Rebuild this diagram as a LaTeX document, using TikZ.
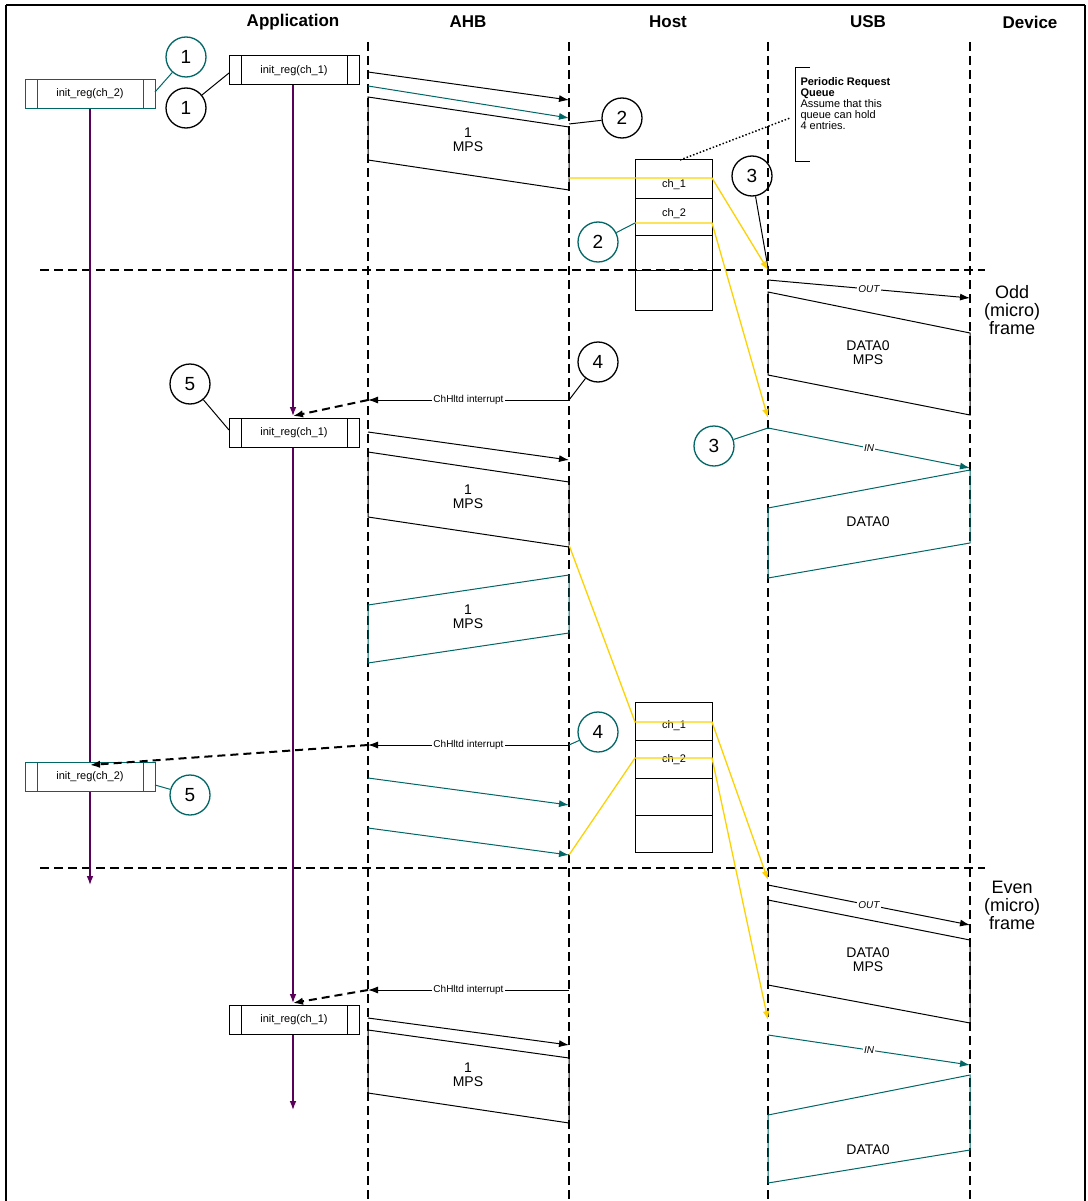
\documentclass[tikz,border=0pt]{standalone}
\usepackage{fontspec}
\setmainfont{Liberation Sans}
\usetikzlibrary{arrows.meta}
\newcommand{\fs}[1]{\fontsize{#1}{#1}\selectfont}
\begin{document}
\begin{tikzpicture}[x=1pt,y=-1pt, line width=1pt,
  teal/.style={draw=teal!80!black},
  yl/.style={draw=yellow!70!orange, line width=1.3pt},
  life/.style={line width=2pt, dash pattern=on 9pt off 5pt},
  msg/.style={-{Latex[length=10pt,width=7pt]}, line width=1pt},
  circ/.style={circle, draw, line width=1.3pt, minimum size=40pt, font=\fs{19}},
  reg/.style={draw, line width=1pt, minimum width=130pt, minimum height=29pt, font=\fs{11}, inner sep=0pt},
  lbl/.style={font=\fs{14}, align=center},
  sl/.style={fill=white, font=\fs{10}, inner sep=1pt, text=black},
  hdr/.style={font=\fs{17}\bfseries}]
\useasboundingbox (0,0) rectangle (1087,1201);
\draw[line width=1.5pt] (6,5) -- (1085,5) (6,5) -- (6,1201) (1085,5)--(1085,1201);
% headers
\node[hdr] at (293,22) {Application};
\node[hdr] at (468,22) {AHB};
\node[hdr] at (668,22) {Host};
\node[hdr] at (868,22) {USB};
\node[hdr] at (1030,22) {Device};
% lifelines
\foreach \x in {368,569,768,970} \draw[life] (\x,42) -- (\x,1201);
\draw[life] (40,270) -- (985,270);
\draw[life] (40,868) -- (985,868);
\node[font=\fs{18}, align=center, inner sep=0pt] at (1012,310) {Odd\\(micro)\\frame};
\node[font=\fs{18}, align=center, inner sep=0pt] at (1012,905) {Even\\(micro)\\frame};
% purple lifelines
\draw[violet!70!black, -{Latex[length=9pt]}, line width=1.3pt] (90,108) -- (90,885);
\draw[violet!70!black, -{Latex[length=9pt]}, line width=1.3pt] (293,85) -- (293,416);
\draw[violet!70!black, -{Latex[length=9pt]}, line width=1.3pt] (293,448) -- (293,1003);
\draw[violet!70!black, -{Latex[length=9pt]}, line width=1.3pt] (293,1035) -- (293,1110);
% boxes
\node[reg, fill=white] (r1) at (294,70.5) {init\_reg(ch\_1)};
\draw (241,56) -- (241,85) (347,56) -- (347,85);
\node[reg, teal, fill=white] (r2) at (90,94) {init\_reg(ch\_2)};
\draw[teal] (37,80) -- (37,108) (143,80) -- (143,108);
\node[reg, fill=white] (r3) at (294,433) {init\_reg(ch\_1)};
\draw (241,418) -- (241,448) (347,418) -- (347,448);
\node[reg, teal, fill=white] (r4) at (90,777) {init\_reg(ch\_2)};
\draw[teal] (37,762) -- (37,792) (143,762) -- (143,792);
\node[reg, fill=white] (r5) at (294,1020) {init\_reg(ch\_1)};
\draw (241,1005) -- (241,1035) (347,1005) -- (347,1035);
% circles
\node[circ, teal] (c1t) at (186,57) {1};
\node[circ] (c1) at (186,108) {1};
\node[circ] (c2) at (622,118) {2};
\node[circ, teal] (c2t) at (598,242) {2};
\node[circ] (c3) at (752,176) {3};
\node[circ] (c4) at (598,362) {4};
\node[circ] (c5) at (190,384) {5};
\node[circ, teal] (c3t) at (714,446) {3};
\node[circ, teal] (c4t) at (598,732) {4};
\node[circ, teal] (c5t) at (190,795) {5};
\coordinate (p1) at (155,92); \draw[teal] (c1t) -- (p1);
\coordinate (p2) at (229,73); \draw (c1) -- (p2);
\coordinate (p3) at (569,124); \draw (c2) -- (p3);
\coordinate (p4) at (635,223); \draw[teal] (c2t) -- (p4);
\coordinate (p5) at (768,268); \draw (c3) -- (p5);
\coordinate (p6) at (569,400); \draw (c4) -- (p6);
\coordinate (p7) at (229,430); \draw (c5) -- (p7);
\coordinate (p8) at (768,428); \draw[teal] (c3t) -- (p8);
\coordinate (p9) at (569,745); \draw[teal] (c4t) -- (p9);
\coordinate (p10) at (155,785); \draw[teal] (c5t) -- (p10);
% AHB top
\draw[msg] (368,72) -- (569,100);
\draw[msg, teal!80!black] (368,86) -- (569,118);
\draw (368,97) -- (569,127) -- (569,190) -- (368,160) -- cycle;
\node[lbl] at (468,140) {1\\MPS};
% queue 1
\draw (635,160) rectangle (712,310);
\foreach \y in {198,235,270} \draw (635,\y) -- (712,\y);
\node[font=\fs{11}] at (674,185) {ch\_1};
\node[font=\fs{11}] at (674,214) {ch\_2};
\draw[yl, -{Latex[length=9pt]}] (569,178) -- (712,178) -- (768,270);
\draw[yl, -{Latex[length=9pt]}] (635,223) -- (712,223) -- (768,418);
\draw[dotted, line width=1.5pt] (680,160) -- (790,118);
\draw (810,68) -- (795,68) -- (795,162) -- (810,162);
\node[font=\fs{11}, align=left, anchor=north west, inner sep=0pt] at (800,77) {\textbf{Periodic Request}\\\textbf{Queue}\\Assume that this\\queue can hold\\4 entries.};
% USB odd
\draw[msg] (768,280) -- node[sl, font=\fs{10}\itshape]{OUT} (970,298);
\draw (768,292) -- (970,333) -- (970,415) -- (768,375) -- cycle;
\node[lbl] at (868,353) {DATA0\\MPS};
% interrupt 1
\draw[msg] (569,400) -- node[sl]{ChHltd interrupt} (368,400);
\draw[-{Latex[length=10pt]}, line width=2pt, dash pattern=on 8pt off 5pt] (368,400) -- (293,416);
% AHB 2
\draw[msg] (368,432) -- (569,460);
\draw (368,452) -- (569,482) -- (569,547) -- (368,517) -- cycle;
\node[lbl] at (468,497) {1\\MPS};
\draw[teal] (368,605) -- (569,575) -- (569,633) -- (368,663) -- cycle;
\node[lbl] at (468,617) {1\\MPS};
% IN odd
\draw[msg, teal!80!black] (768,428) -- node[sl, font=\fs{10}\itshape]{IN} (970,468);
\draw[teal] (768,508) -- (970,470) -- (970,543) -- (768,578) -- cycle;
\node[lbl] at (868,522) {DATA0};
% queue 2
\draw (635,702) rectangle (712,852);
\foreach \y in {740,778,815} \draw (635,\y) -- (712,\y);
\node[font=\fs{11}] at (674,726) {ch\_1};
\node[font=\fs{11}] at (674,760) {ch\_2};
\draw[yl, -{Latex[length=9pt]}] (569,545) -- (635,722) -- (712,722) -- (768,880);
\draw[yl, -{Latex[length=9pt]}] (569,855) -- (635,758) -- (712,758) -- (768,1020);
% interrupt 2
\draw[msg] (569,745) -- node[sl]{ChHltd interrupt} (368,745);
\draw[-{Latex[length=10pt]}, line width=2pt, dash pattern=on 8pt off 5pt] (368,745) -- (90,765);
\draw[msg, teal!80!black] (368,778) -- (569,805);
\draw[msg, teal!80!black] (368,828) -- (569,855);
% even frame
\draw[msg] (768,885) -- node[sl, font=\fs{10}\itshape]{OUT} (970,925);
\draw (768,900) -- (970,940) -- (970,1023) -- (768,985) -- cycle;
\node[lbl] at (868,960) {DATA0\\MPS};
\draw[msg] (569,990) -- node[sl]{ChHltd interrupt} (368,990);
\draw[-{Latex[length=10pt]}, line width=2pt, dash pattern=on 8pt off 5pt] (368,990) -- (293,1003);
\draw[msg] (368,1018) -- (569,1045);
\draw (368,1030) -- (569,1058) -- (569,1123) -- (368,1093) -- cycle;
\node[lbl] at (468,1075) {1\\MPS};
\draw[msg, teal!80!black] (768,1035) -- node[sl, font=\fs{10}\itshape]{IN} (970,1065);
\draw[teal] (768,1115) -- (970,1075) -- (970,1150) -- (768,1183) -- cycle;
\node[lbl] at (868,1150) {DATA0};
\end{tikzpicture}
\end{document}
